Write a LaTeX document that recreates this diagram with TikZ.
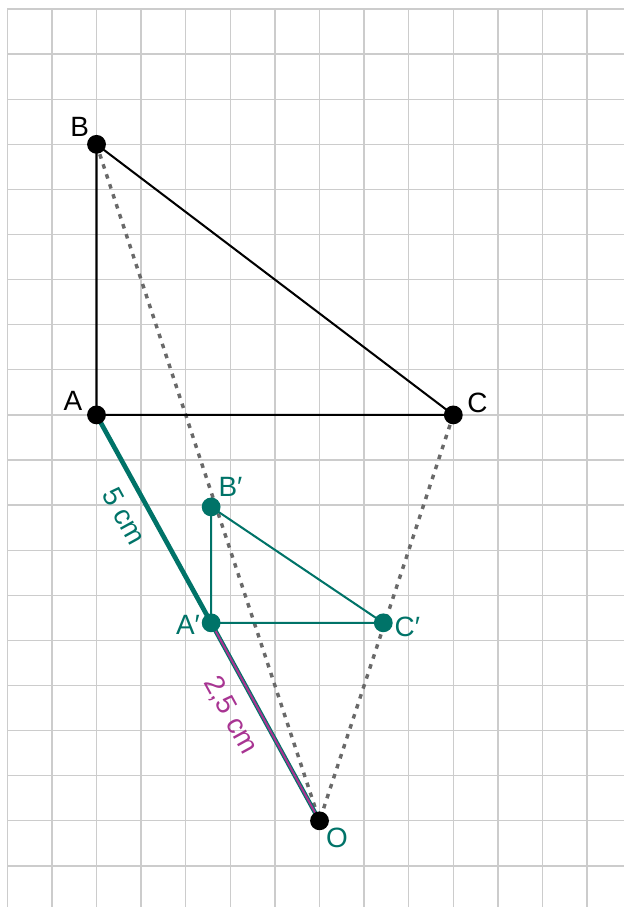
\documentclass[tikz,border=0pt]{standalone}
\usepackage{fontspec}
\setmainfont{Liberation Sans}
\usetikzlibrary{positioning}
\definecolor{hteal}{RGB}{0,115,104}
\definecolor{hmag}{RGB}{168,52,146}
\definecolor{raygray}{RGB}{105,105,105}

\begin{document}
\begin{tikzpicture}[
x=1cm, y=-1.0112cm,
font=\fontsize{17.8}{20}\selectfont,
gridline/.style={black!20, line width=0.85pt},
vertex/.style={circle, fill=black, inner sep=0pt, minimum size=12pt},
tvertex/.style={vertex, fill=hteal},
lbl/.style={inner sep=0pt, on grid},
len/.style={inner sep=0pt, sloped},
ray/.style={raygray, line width=2.2pt, dash pattern=on 2.9pt off 3.8pt},
side/.style={line width=1.3pt}
]
\useasboundingbox (-0.164,-0.2) rectangle (13.827,19.911);

% grid
\foreach \i in {0,...,13}
  \draw[gridline] (\i,0) -- (\i,19.911);
\foreach \j in {0,...,19}
  \draw[gridline] (0,\j) -- (13.827,\j);

\coordinate (A) at (2,9);
\coordinate (B) at (2,3);
\coordinate (C) at (10,9);
\coordinate (O) at (7,18);
\coordinate (Ap) at (4.57,13.61);
\coordinate (Bp) at (4.57,11.04);
\coordinate (Cp) at (8.43,13.61);

\draw[ray] (B) -- (O);
\draw[ray] (C) -- (O);

\draw[side] (B) -- (A) -- (C) -- cycle;
\draw[side, hteal] (Bp) -- (Ap) -- (Cp) -- cycle;

\draw[hteal, line width=3pt] (A) -- (Ap)
  node[len, pos=0.43, below=7.7pt, text=hteal] (len5) {5 cm};
\draw[hteal, line width=2.8pt] (Ap) -- (O);
\draw[hmag, line width=1.3pt] (Ap) -- (O)
  node[len, pos=0.40, below=9.5pt, text=hmag] (len25) {2,5 cm};

\node[vertex] (dotA) at (A) {};
\node[vertex] (dotB) at (B) {};
\node[vertex] (dotC) at (C) {};
\node[vertex] (dotO) at (O) {};
\node[tvertex] (dotAp) at (Ap) {};
\node[tvertex] (dotBp) at (Bp) {};
\node[tvertex] (dotCp) at (Cp) {};

\node[lbl, above left=8.9pt and 15.1pt of dotA] (labA) {A};
\node[lbl, above left=11pt and 10.8pt of dotB] (labB) {B};
\node[lbl, above right=7.8pt and 15.4pt of dotC] (labC) {C};
\node[lbl, below right=10.7pt and 11.2pt of dotO, text=hteal] (labO) {O};
\node[lbl, below left=1.5pt and 14.8pt of dotAp, text=hteal] (labAp) {A′};
\node[lbl, above right=12.8pt and 12.3pt of dotBp, text=hteal] (labBp) {B′};
\node[lbl, below right=2.4pt and 15.4pt of dotCp, text=hteal] (labCp) {C′};

\end{tikzpicture}
\end{document}
